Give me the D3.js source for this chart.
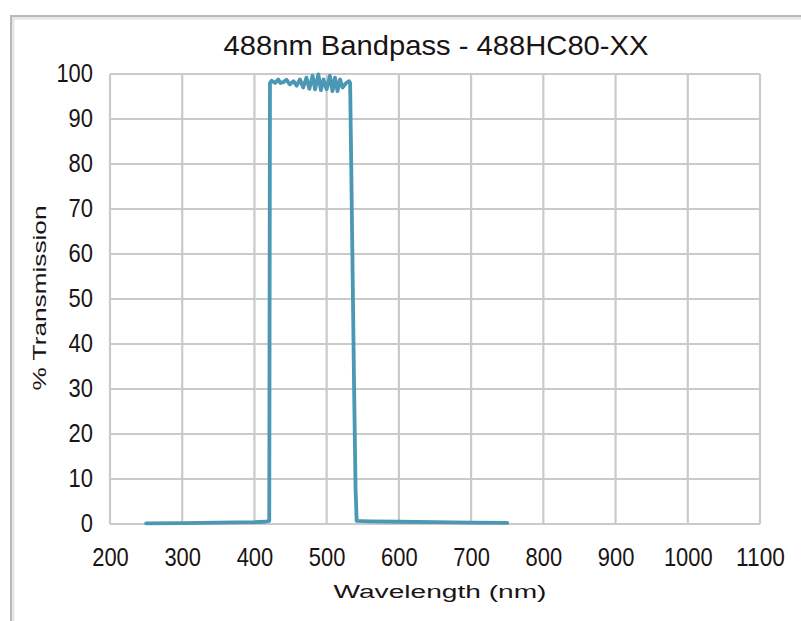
<!DOCTYPE html>
<html>
<head>
<meta charset="utf-8">
<script src="https://cdn.jsdelivr.net/npm/d3@7"></script>
<style>
  html, body { margin: 0; padding: 0; background: #fff; }
  text { font-family: "Liberation Sans", Arial, sans-serif; fill: #1a1414; }
</style>
</head>
<body>
<div id="chart"></div>
<script>
// spectrum
const wavelength = [250, 300, 350, 400, 415, 420.5, 421, 421.5, 424, 428.5, 433, 436, 440, 444.5, 449, 454,
  458.5, 463, 467.5, 472, 476, 480.5, 484, 488.5, 492, 495.5, 500, 504.5, 508, 511.5, 515, 518.5, 522,
  527, 531, 532.5, 534, 536, 538, 540, 541.5, 560, 600, 650, 700, 750];
const transmission = [0.15, 0.2, 0.3, 0.4, 0.5, 0.7, 50, 98, 98.5, 98, 98.8, 98, 98.2, 98.7, 97.7, 98.4,
  97.4, 98.8, 97, 99.2, 96.7, 99.6, 96.6, 99.9, 96.4, 98.8, 96.6, 99.6, 96.2, 99.2, 96.2, 98.8, 97,
  98, 98.4, 98, 80, 55, 30, 8, 0.7, 0.6, 0.5, 0.4, 0.3, 0.25];

const xTicks = [200, 300, 400, 500, 600, 700, 800, 900, 1000, 1100];
const yTicks = [0, 10, 20, 30, 40, 50, 60, 70, 80, 90, 100];

const W = 801, H = 621;
const margin = { top: 74, right: 41, bottom: 97, left: 110 },
    width = W - margin.left - margin.right,
    height = H - margin.top - margin.bottom;

const svg = d3.select("#chart").append("svg")
    .attr("width", W)
    .attr("height", H);

// outer frame (runs off the right and bottom)
svg.append("rect")
    .attr("x", 13).attr("y", 18).attr("width", 900).attr("height", 700)
    .attr("fill", "none").attr("stroke", "#e6e6e6").attr("stroke-width", 3);
svg.append("rect")
    .attr("x", 11).attr("y", 16).attr("width", 900).attr("height", 700)
    .attr("fill", "none").attr("stroke", "#b9b9b9").attr("stroke-width", 2);

const g = svg.append("g").attr("transform", `translate(${margin.left},${margin.top})`);

const x = d3.scaleLinear().domain([200, 1100]).range([0, width]);
const y = d3.scaleLinear().domain([0, 100]).range([height, 0]);

// grid
g.append("g")
    .selectAll("line").data(xTicks).join("line")
    .attr("x1", d => x(d)).attr("x2", d => x(d))
    .attr("y1", 0).attr("y2", height)
    .attr("stroke", "#cacaca").attr("stroke-width", 2.2);
g.append("g")
    .selectAll("line").data(yTicks).join("line")
    .attr("x1", 0).attr("x2", width)
    .attr("y1", d => y(d)).attr("y2", d => y(d))
    .attr("stroke", "#cacaca").attr("stroke-width", 2.2);

// axes (labels only)
const xAxis = g.append("g")
    .attr("transform", `translate(0,${height})`)
    .call(d3.axisBottom(x).tickValues(xTicks).tickSize(0).tickPadding(24).tickFormat(d3.format("d")));
const yAxis = g.append("g")
    .call(d3.axisLeft(y).tickValues(yTicks).tickSize(0).tickPadding(17).tickFormat(d3.format("d")));

[xAxis, yAxis].forEach(a => {
    a.select(".domain").remove();
    a.selectAll("text")
        .style("font-size", "25px")
        .style("font-family", '"Liberation Sans", Arial, sans-serif')
        .attr("fill", "#1a1414")
        .attr("textLength", d => String(d).length * 12.2)
        .attr("lengthAdjust", "spacingAndGlyphs");
});
yAxis.selectAll("text").attr("dy", "0.3em");

// curve
const line = d3.line()
    .x((d, i) => x(wavelength[i]))
    .y(d => y(d));

g.append("path")
    .datum(transmission)
    .attr("fill", "none")
    .attr("stroke", "#4a98b4")
    .attr("stroke-width", 3.8)
    .attr("stroke-linejoin", "round")
    .attr("stroke-linecap", "round")
    .attr("d", line);

// titles
svg.append("text")
    .attr("x", 436).attr("y", 55)
    .attr("text-anchor", "middle")
    .style("font-size", "28px")
    .attr("textLength", 425).attr("lengthAdjust", "spacingAndGlyphs")
    .text("488nm Bandpass - 488HC80-XX");

svg.append("text")
    .attr("x", 440).attr("y", 598)
    .attr("text-anchor", "middle")
    .style("font-size", "18px")
    .attr("textLength", 213).attr("lengthAdjust", "spacingAndGlyphs")
    .text("Wavelength (nm)");

svg.append("text")
    .attr("transform", "translate(46,298) rotate(-90)")
    .attr("text-anchor", "middle")
    .style("font-size", "18px")
    .attr("textLength", 185).attr("lengthAdjust", "spacingAndGlyphs")
    .text("% Transmission");
</script>
</body>
</html>
